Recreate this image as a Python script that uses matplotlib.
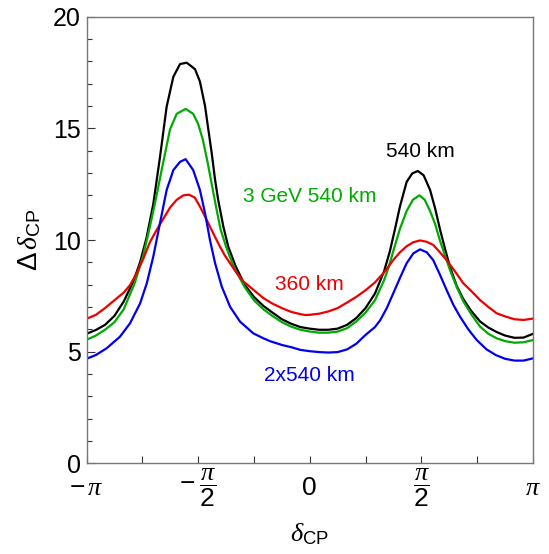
import numpy as np
import matplotlib
matplotlib.use('Agg')
import matplotlib.pyplot as plt

plt.rcParams['font.family'] = ['Liberation Sans', 'DejaVu Sans']
plt.rcParams['mathtext.fontset'] = 'custom'
plt.rcParams['mathtext.rm'] = 'Liberation Sans'
plt.rcParams['mathtext.it'] = 'Liberation Serif:italic'
plt.rcParams['mathtext.bf'] = 'Liberation Sans:bold'

# delta_CP (in units of pi) and Delta delta_CP
x_540 = [-1.0, -0.958, -0.917, -0.875, -0.833, -0.79, -0.76, -0.731, -0.701, -0.671, -0.641, -0.611,
         -0.581, -0.551, -0.514, -0.492, -0.469, -0.454, -0.439, -0.424, -0.41, -0.387, -0.365,
         -0.333, -0.292, -0.25, -0.208, -0.167, -0.125, -0.083, -0.042, 0.0, 0.042, 0.083, 0.125,
         0.167, 0.208, 0.25, 0.292, 0.333, 0.359, 0.382, 0.404, 0.434, 0.459, 0.484, 0.51, 0.539,
         0.562, 0.584, 0.606, 0.628, 0.658, 0.688, 0.725, 0.763, 0.8, 0.837, 0.875, 0.917, 0.958, 1.0]
y_540 = [5.80, 5.97, 6.2, 6.6, 7.25, 8.15, 9.0, 10.1, 11.6, 13.7, 15.97, 17.31,
         17.88, 17.94, 17.65, 17.1, 16.0, 14.93, 13.88, 12.69, 11.79, 10.6, 9.7,
         8.85, 8.0, 7.45, 7.05, 6.75, 6.45, 6.25, 6.1, 6.03, 5.98, 5.98, 6.03,
         6.2, 6.5, 6.95, 7.6, 8.6, 9.5, 10.5, 11.5, 12.6, 12.98, 13.09, 12.9, 12.24,
         11.4, 10.45, 9.6, 8.8, 7.95, 7.35, 6.8, 6.35, 6.08, 5.88, 5.72, 5.62, 5.63, 5.8]

x_3gev = [-1.0, -0.958, -0.917, -0.875, -0.833, -0.783, -0.746, -0.716, -0.686, -0.656, -0.626, -0.596,
          -0.556, -0.522, -0.5, -0.479, -0.458, -0.439, -0.42, -0.4, -0.375, -0.35, -0.333, -0.292,
          -0.25, -0.208, -0.167, -0.125, -0.083, -0.042, 0.0, 0.042, 0.083, 0.125, 0.167, 0.208,
          0.25, 0.292, 0.333, 0.354, 0.374, 0.404, 0.434, 0.462, 0.491, 0.515, 0.539, 0.562, 0.584,
          0.606, 0.628, 0.658, 0.688, 0.725, 0.763, 0.8, 0.837, 0.875, 0.917, 0.958, 1.0]
y_3gev = [5.53, 5.72, 5.98, 6.32, 6.9, 8.1, 9.3, 10.6, 12.0, 13.5, 14.95, 15.65,
          15.87, 15.65, 15.2, 14.5, 13.5, 12.5, 11.5, 10.5, 9.7, 9.05, 8.65, 7.9,
          7.3, 6.9, 6.6, 6.32, 6.12, 5.98, 5.9, 5.85, 5.85, 5.9, 6.05, 6.35,
          6.75, 7.3, 8.2, 8.8, 9.5, 10.5, 11.3, 11.8, 12.0, 11.8, 11.3, 10.7, 9.95,
          9.3, 8.66, 7.9, 7.25, 6.65, 6.12, 5.8, 5.6, 5.47, 5.4, 5.42, 5.52]

x_360 = [-1.0, -0.958, -0.917, -0.875, -0.833, -0.805, -0.776, -0.746, -0.716, -0.686, -0.656, -0.626,
         -0.596, -0.566, -0.541, -0.515, -0.492, -0.469, -0.447, -0.425, -0.402, -0.38, -0.357,
         -0.333, -0.298, -0.25, -0.208, -0.167, -0.125, -0.083, -0.042, -0.02, 0.0, 0.042, 0.083,
         0.125, 0.167, 0.208, 0.25, 0.292, 0.333, 0.374, 0.404, 0.434, 0.464, 0.494, 0.524, 0.553,
         0.583, 0.613, 0.65, 0.688, 0.725, 0.763, 0.8, 0.837, 0.875, 0.917, 0.958, 1.0]
y_360 = [6.47, 6.65, 6.95, 7.3, 7.65, 7.98, 8.5, 9.15, 9.9, 10.45, 10.95, 11.45,
         11.8, 12.0, 12.03, 11.9, 11.5, 11.05, 10.6, 10.15, 9.7, 9.3, 8.96,
         8.6, 8.15, 7.75, 7.4, 7.15, 6.95, 6.78, 6.68, 6.64, 6.65, 6.7, 6.8,
         6.95, 7.2, 7.45, 7.75, 8.1, 8.55, 9.1, 9.45, 9.72, 9.9, 9.98, 9.92, 9.78,
         9.45, 9.1, 8.6, 8.06, 7.7, 7.31, 7.0, 6.72, 6.58, 6.45, 6.42, 6.48]

x_2x540 = [-1.0, -0.958, -0.91, -0.85, -0.805, -0.76, -0.73, -0.701, -0.671, -0.641, -0.611, -0.581,
           -0.556, -0.522, -0.492, -0.469, -0.447, -0.424, -0.394, -0.357, -0.312, -0.253, -0.208,
           -0.178, -0.125, -0.083, -0.042, 0.0, 0.042, 0.083, 0.125, 0.167, 0.208, 0.25, 0.292,
           0.315, 0.345, 0.374, 0.404, 0.434, 0.464, 0.494, 0.524, 0.553, 0.583, 0.613, 0.643,
           0.673, 0.71, 0.748, 0.792, 0.833, 0.875, 0.917, 0.958, 1.0]
y_2x540 = [4.68, 4.85, 5.15, 5.67, 6.27, 7.16, 8.06, 9.25, 10.75, 12.24, 13.13, 13.5,
           13.62, 13.13, 12.24, 11.2, 10.0, 8.96, 7.91, 7.01, 6.34, 5.82, 5.6,
           5.47, 5.3, 5.2, 5.08, 5.02, 4.98, 4.96, 4.98, 5.1, 5.35, 5.75, 6.1,
           6.4, 6.95, 7.61, 8.3, 8.96, 9.4, 9.58, 9.45, 9.1, 8.45, 7.76, 7.1,
           6.57, 6.0, 5.52, 5.1, 4.85, 4.68, 4.6, 4.6, 4.7]

# curve labels: text, x (units of pi), y
label_text = ['540 km', '3 GeV 540 km', '360 km', '2x540 km']
label_x = [0.494, 0.0, 0.0, 0.0]
label_y = [13.95, 11.95, 8.0, 3.93]

colors = ['black', '#00aa00', '#ee0000', '#0000ee']

xtick_pos = [-1, -0.5, 0, 0.5, 1]
xtick_labels = [r'$-\,\pi$', r'$-\;\dfrac{\pi}{2}$', '0', r'$\dfrac{\pi}{2}$', r'$\pi$']

fig = plt.figure(figsize=(5.49, 5.54), dpi=100)
ax = fig.add_axes([86.5 / 549, 1 - 463.3 / 554, 446.5 / 549, 446.6 / 554])

series = [(x_540, y_540), (x_3gev, y_3gev), (x_360, y_360), (x_2x540, y_2x540)]
for (xs, ys), c in zip(series, colors):
    ax.plot(np.array(xs) * np.pi, ys, color=c, lw=1.6, solid_joinstyle='round')

for t, lx, ly, c in zip(label_text, label_x, label_y, colors):
    ax.text(lx * np.pi, ly, t, color=c, fontsize=15, ha='center', va='center')

ax.set_xlim(-np.pi, np.pi)
ax.set_ylim(0, 20)

ax.set_xticks(np.array(xtick_pos) * np.pi)
ax.set_xticklabels(xtick_labels)
ax.set_xticks(np.array([-0.75, -0.25, 0.25, 0.75]) * np.pi, minor=True)
ax.set_yticks([0, 5, 10, 15, 20])
ax.set_yticks(np.arange(0, 21, 1), minor=True)

for s in ax.spines.values():
    s.set_color('#777777')
    s.set_linewidth(1.0)

ax.tick_params(axis='both', which='both', direction='in', color='#333333', width=0.8)
ax.tick_params(axis='y', which='major', length=6, labelsize=18, pad=4)
ax.tick_params(axis='y', which='minor', length=3.5)
ax.tick_params(axis='x', which='both', length=5, labelsize=19, pad=18)
for lab in ax.get_xticklabels():
    lab.set_va('center')

fig.text(309.75 / 549, 1 - 534 / 554, r'$\delta_{\mathrm{CP}}$', fontsize=19,
         ha='center', va='center')
fig.text(30 / 549, 1 - 240 / 554, r'$\Delta\,\delta_{\mathrm{CP}}$', fontsize=20,
         ha='center', va='center', rotation=90)

plt.savefig('out.png', dpi=100)
